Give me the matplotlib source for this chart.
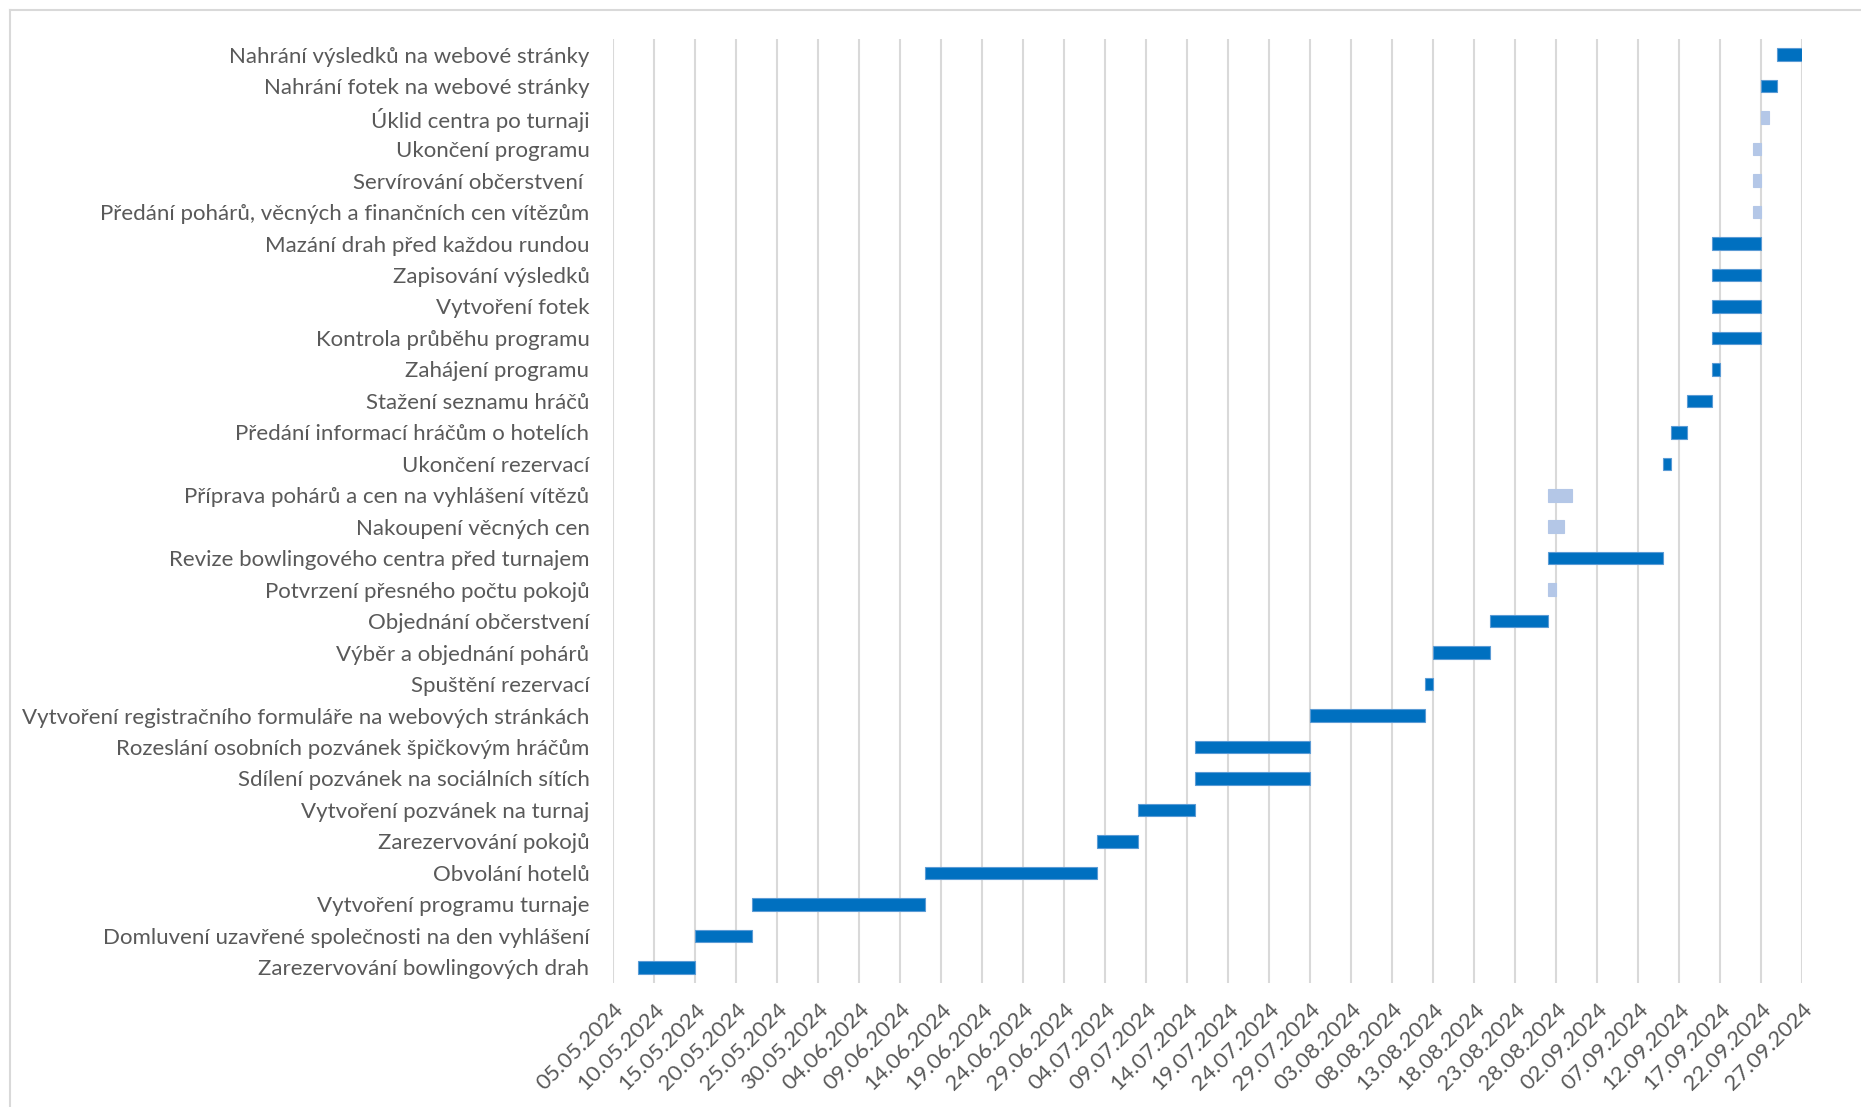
import numpy as np
import matplotlib.pyplot as plt
import matplotlib.dates as mdates
from matplotlib.lines import Line2D
from datetime import datetime, timedelta

plt.rcParams['font.family'] = ['Lato', 'DejaVu Sans']

# tasks from bottom to top
tasks = [
    "Zarezervování bowlingových drah",
    "Domluvení uzavřené společnosti na den vyhlášení",
    "Vytvoření programu turnaje",
    "Obvolání hotelů",
    "Zarezervování pokojů",
    "Vytvoření pozvánek na turnaj",
    "Sdílení pozvánek na sociálních sítích",
    "Rozeslání osobních pozvánek špičkovým hráčům",
    "Vytvoření registračního formuláře na webových stránkách",
    "Spuštění rezervací",
    "Výběr a objednání pohárů",
    "Objednání občerstvení",
    "Potvrzení přesného počtu pokojů",
    "Revize bowlingového centra před turnajem",
    "Nakoupení věcných cen",
    "Příprava pohárů a cen na vyhlášení vítězů",
    "Ukončení rezervací",
    "Předání informací hráčům o hotelích",
    "Stažení seznamu hráčů",
    "Zahájení programu",
    "Kontrola průběhu programu",
    "Vytvoření fotek",
    "Zapisování výsledků",
    "Mazání drah před každou rundou",
    "Předání pohárů, věcných a finančních cen vítězům",
    "Servírování občerstvení ",
    "Ukončení programu",
    "Úklid centra po turnaji",
    "Nahrání fotek na webové stránky",
    "Nahrání výsledků na webové stránky",
]
starts = [
    "08.05.2024", "15.05.2024", "22.05.2024", "12.06.2024", "03.07.2024",
    "08.07.2024", "15.07.2024", "15.07.2024", "29.07.2024", "12.08.2024",
    "13.08.2024", "20.08.2024", "27.08.2024", "27.08.2024", "27.08.2024",
    "27.08.2024", "10.09.2024", "11.09.2024", "13.09.2024", "16.09.2024",
    "16.09.2024", "16.09.2024", "16.09.2024", "16.09.2024", "21.09.2024",
    "21.09.2024", "21.09.2024", "22.09.2024", "22.09.2024", "24.09.2024",
]
durations = [7, 7, 21, 21, 5, 7, 14, 14, 14, 1, 7, 7, 1, 14, 2,
             3, 1, 2, 3, 1, 6, 6, 6, 6, 1, 1, 1, 1, 2, 3]
# 1 = light (optional) task
light = [0, 0, 0, 0, 0, 0, 0, 0, 0, 0, 0, 0, 1, 0, 1,
         1, 0, 0, 0, 0, 0, 0, 0, 0, 1, 1, 1, 1, 0, 0]

axis_start = "05.05.2024"
axis_end = "27.09.2024"
tick_step_days = 5

dark = "#0070C0"
pale = "#B4C7E7"
text_col = "#595959"
grid_col = "#D9D9D9"

W, H = 1861, 1107
fig = plt.figure(figsize=(W / 100, H / 100), dpi=100)
ax = fig.add_axes([613 / W, 1 - 983 / H, (1802 - 613) / W, (983 - 39) / H])

d0 = datetime.strptime(axis_start, "%d.%m.%Y")
d1 = datetime.strptime(axis_end, "%d.%m.%Y")
start_num = [mdates.date2num(datetime.strptime(s, "%d.%m.%Y")) for s in starts]
y = np.arange(len(tasks))
cols = [pale if l else dark for l in light]
edges = [pale if l else "#5B9BD5" for l in light]
ax.barh(y, durations, left=start_num, height=0.4, color=cols,
        edgecolor=edges, linewidth=0.8, zorder=3)

ticks = []
d = d0
while d <= d1:
    ticks.append(d)
    d += timedelta(days=tick_step_days)
ax.set_xticks([mdates.date2num(t) for t in ticks])
ax.set_xticklabels([t.strftime("%d.%m.%Y") for t in ticks], rotation=45,
                   ha="right", rotation_mode="anchor", fontsize=16, color=text_col)
ax.set_xlim(mdates.date2num(d0), mdates.date2num(d1))
ax.set_ylim(-0.5, len(tasks) - 0.5)
ax.set_yticks(y)
ax.set_yticklabels(tasks, fontsize=16, color=text_col)
ax.tick_params(axis="both", length=0)
ax.tick_params(axis="y", pad=17)
ax.tick_params(axis="x", pad=12)
ax.grid(axis="x", color=grid_col, linewidth=1.5, zorder=0)
for s in ax.spines.values():
    s.set_visible(False)

# chart area border (left and top only visible)
fig.add_artist(Line2D([9.5 / W, 9.5 / W], [0, 1 - 9.5 / H], color=grid_col, lw=1.5))
fig.add_artist(Line2D([9.5 / W, 1], [1 - 9.5 / H, 1 - 9.5 / H], color=grid_col, lw=1.5))

fig.savefig("out.png", dpi=100)
